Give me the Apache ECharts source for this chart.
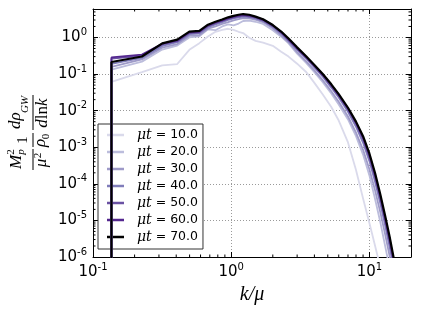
<!DOCTYPE html>
<html><head><meta charset="utf-8">
<script src="https://cdn.jsdelivr.net/npm/echarts@6/dist/echarts.min.js"></script>
<style>html,body{margin:0;padding:0;background:#fff}#c{width:421px;height:316px}</style>
</head><body><div id="c"></div>
<script>
// k / mu grid (first point duplicated: vertical drop from below the axis)
const K = [0.136, 0.136, 0.226, 0.317, 0.407, 0.498, 0.588, 0.679, 0.769, 0.860, 0.950,
  1.04, 1.13, 1.22, 1.35, 1.5, 1.7, 2.0, 2.3, 2.6, 3.0, 3.5, 4.0, 4.6, 5.3, 6.0, 7.0,
  8.0, 9.0, 10, 11, 12, 13, 14, 15, 16, 17];
const MU_T = ['10.0', '20.0', '30.0', '40.0', '50.0', '60.0', '70.0'];
const T10 = [1e-9, 0.061, 0.113, 0.173, 0.188, 0.46, 0.70, 1.06, 1.43, 1.62, 1.73, 1.62, 1.43, 1.32, 0.98, 0.81, 0.72, 0.59, 0.41, 0.30, 0.192, 0.112, 0.0575, 0.0275, 0.0126, 5.37e-3, 1.35e-3, 2.40e-4, 3.98e-5, 8.5e-6, 2.0e-6, 5.2e-7, 1.4e-7, 3e-8, 1e-8, 3e-9, 1e-9];
const T20 = [1e-9, 0.132, 0.219, 0.468, 0.603, 1.0, 1.07, 1.66, 1.58, 2.0, 2.29, 2.14, 2.40, 2.82, 2.88, 2.69, 2.34, 1.58, 1.05, 0.692, 0.363, 0.200, 0.112, 0.0603, 0.0295, 0.0148, 5.75e-3, 2.0e-3, 6.3e-4, 1.70e-4, 3.8e-5, 8.9e-6, 2.0e-6, 5e-7, 1.8e-7, 5e-8, 1.6e-8];
const T30 = [1e-9, 0.158, 0.251, 0.525, 0.661, 1.12, 1.15, 1.74, 2.0, 2.34, 2.63, 2.95, 3.16, 3.39, 3.31, 3.09, 2.63, 1.78, 1.15, 0.741, 0.398, 0.219, 0.126, 0.0676, 0.0339, 0.0174, 6.92e-3, 2.51e-3, 8.5e-4, 2.51e-4, 6.6e-5, 1.66e-5, 4.17e-6, 1.07e-6, 2.8e-7, 8e-8, 2.5e-8];
const T40 = [1e-9, 0.191, 0.275, 0.589, 0.741, 1.23, 1.29, 1.91, 2.29, 2.63, 3.02, 3.31, 3.55, 3.72, 3.63, 3.31, 2.82, 1.95, 1.29, 0.813, 0.468, 0.263, 0.151, 0.0851, 0.0427, 0.0229, 9.33e-3, 3.63e-3, 1.32e-3, 4.17e-4, 1.12e-4, 2.88e-5, 7.4e-6, 1.9e-6, 5e-7, 1.3e-7, 4e-8];
const T50 = [1e-9, 0.263, 0.316, 0.646, 0.794, 1.32, 1.38, 2.04, 2.45, 2.82, 3.24, 3.55, 3.80, 3.98, 3.80, 3.47, 2.95, 2.04, 1.35, 0.851, 0.490, 0.275, 0.162, 0.0912, 0.0468, 0.0251, 0.0107, 4.37e-3, 1.66e-3, 5.37e-4, 1.48e-4, 3.89e-5, 1.0e-5, 2.63e-6, 6.8e-7, 1.8e-7, 5e-8];
const T60 = [1e-9, 0.285, 0.339, 0.676, 0.832, 1.38, 1.45, 2.14, 2.57, 2.95, 3.39, 3.72, 3.98, 4.17, 3.98, 3.63, 3.09, 2.14, 1.41, 0.891, 0.513, 0.288, 0.170, 0.0955, 0.0501, 0.0269, 0.0115, 4.68e-3, 1.82e-3, 6.03e-4, 1.70e-4, 4.47e-5, 1.15e-5, 3.09e-6, 7.9e-7, 2.1e-7, 6.3e-8];
const T70 = [1e-9, 0.214, 0.302, 0.692, 0.871, 1.45, 1.51, 2.24, 2.69, 3.09, 3.55, 3.89, 4.17, 4.37, 4.17, 3.72, 3.16, 2.19, 1.45, 0.933, 0.537, 0.302, 0.178, 0.100, 0.0525, 0.0282, 0.0120, 5.01e-3, 2.0e-3, 6.76e-4, 1.95e-4, 5.13e-5, 1.35e-5, 3.63e-6, 9.3e-7, 2.5e-7, 7.9e-8];
const SERIES_VALUES = [T10, T20, T30, T40, T50, T60, T70];
const COLORS = ['#dadaeb', '#bcbddc', '#9e9ac8', '#807dba', '#6a51a3', '#54278f', '#000000'];
const X_MIN = 0.1, X_MAX = 20, Y_MIN = 1e-6, Y_MAX = 6;
const X_MINOR = [0.2,0.3,0.4,0.5,0.6,0.7,0.8,0.9,2,3,4,5,6,7,8,9];
const Y_MINOR = [];
[1e-6,1e-5,1e-4,1e-3,1e-2,1e-1,1].forEach(d => { for (let m = 2; m <= 9; m++) { if (d*m < Y_MAX) Y_MINOR.push(+(d*m).toPrecision(3)); } });

const chart = echarts.init(document.getElementById('c'), null, {renderer: 'canvas'});
const SANS = 'DejaVu Sans', SERIF = 'Liberation Serif', MSERIF = 'DejaVu Serif';
function powLabel(v) {
  const e = Math.log10(v), r = Math.round(e);
  if (Math.abs(e - r) > 1e-6) return '';
  return '{b|10}{s|' + (r < 0 ? '-' + (-r) : r) + '}';
}
const labelRich = {
  b: {fontSize: 15, fontFamily: SANS, color: '#000', lineHeight: 20},
  s: {fontSize: 10, fontFamily: SANS, color: '#000', lineHeight: 10, verticalAlign: 'top'}
};
const gridLine = {show: true, lineStyle: {color: '#9a9a9a', width: 1, type: [1, 2]}};
const axLine = {show: true, lineStyle: {color: '#000', width: 1}};
const majTick = {show: true, inside: true, length: 5, lineStyle: {color: '#000', width: 1}};

const series = SERIES_VALUES.map((vals, i) => ({
  name: 'μt = ' + MU_T[i], type: 'line', xAxisIndex: 0, yAxisIndex: 0,
  data: K.map((k, j) => [k, vals[j]]),
  showSymbol: false, symbol: 'none', color: COLORS[i],
  lineStyle: {width: i === 6 ? 2.2 : 1.8, color: COLORS[i]},
  animation: false, z: 3 + i, clip: true
}));
function minorX(params, api) {
  const v = api.value(0);
  const b = api.coord([v, Y_MIN]), t = api.coord([v, Y_MAX]);
  return {type: 'group', children: [
    {type: 'line', shape: {x1: b[0], y1: b[1], x2: b[0], y2: b[1] - 2.5}, style: {stroke: '#000', lineWidth: 1}},
    {type: 'line', shape: {x1: t[0], y1: t[1], x2: t[0], y2: t[1] + 2.5}, style: {stroke: '#000', lineWidth: 1}}
  ]};
}
function minorY(params, api) {
  const v = api.value(1);
  const l = api.coord([X_MIN, v]), r = api.coord([X_MAX, v]);
  return {type: 'group', children: [
    {type: 'line', shape: {x1: l[0], y1: l[1], x2: l[0] + 2.5, y2: l[1]}, style: {stroke: '#000', lineWidth: 1}},
    {type: 'line', shape: {x1: r[0], y1: r[1], x2: r[0] - 2.5, y2: r[1]}, style: {stroke: '#000', lineWidth: 1}}
  ]};
}
series.push({type: 'custom', silent: true, renderItem: minorX, data: X_MINOR.map(v => [v, Y_MIN]), z: 10, animation: false});
series.push({type: 'custom', silent: true, renderItem: minorY, data: Y_MINOR.map(v => [X_MIN, v]), z: 10, animation: false});

const it = (t, x, y, size, extra) => ({type: 'text', x: x, y: y, style: Object.assign({text: t, fontSize: size, fontFamily: SERIF, fontStyle: 'italic', fill: '#000', align: 'center', verticalAlign: 'middle'}, extra || {})});
const bar = (x1, x2) => ({type: 'line', shape: {x1: x1, y1: 0, x2: x2, y2: 0}, style: {stroke: '#000', lineWidth: 1}});

chart.setOption({
  animation: false,
  backgroundColor: '#fff',
  grid: {left: 93, right: 10, top: 9, bottom: 59, containLabel: false},
  xAxis: [
    {type: 'log', logBase: 10, min: X_MIN, max: X_MAX, position: 'bottom',
     axisLine: axLine, axisTick: majTick, splitLine: gridLine, minorTick: {show: false},
     axisLabel: {formatter: powLabel, rich: labelRich, margin: 5, showMaxLabel: false},
     name: 'k/μ', nameLocation: 'middle', nameGap: 19,
     nameTextStyle: {fontFamily: SERIF, fontStyle: 'italic', fontSize: 20, color: '#000'}},
    {type: 'log', logBase: 10, min: X_MIN, max: X_MAX, position: 'top',
     axisLine: axLine, axisTick: majTick, splitLine: {show: false}, axisLabel: {show: false}}
  ],
  yAxis: [
    {type: 'log', logBase: 10, min: Y_MIN, max: Y_MAX, position: 'left',
     axisLine: axLine, axisTick: majTick, splitLine: gridLine,
     axisLabel: {formatter: powLabel, rich: labelRich, margin: 6, showMaxLabel: false}},
    {type: 'log', logBase: 10, min: Y_MIN, max: Y_MAX, position: 'right',
     axisLine: axLine, axisTick: majTick, splitLine: {show: false}, axisLabel: {show: false}}
  ],
  legend: {
    data: MU_T.map(m => 'μt = ' + m), left: 98, top: 124, orient: 'vertical',
    backgroundColor: '#fff', borderColor: '#333', borderWidth: 1, borderRadius: 0,
    padding: [4, 5, 5, 9], itemGap: 3, itemWidth: 17, itemHeight: 2.5, icon: 'rect',
    selectedMode: false,
    formatter: n => '{m|μt}{e| = ' + n.split('= ')[1] + '}',
    textStyle: {lineHeight: 14, padding: [0, 0, 0, 8], rich: {
      m: {fontFamily: MSERIF, fontStyle: 'italic', fontSize: 14, color: '#000', lineHeight: 14},
      e: {fontFamily: SANS, fontSize: 12.5, color: '#000', lineHeight: 14}
    }}
  },
  graphic: [{
    type: 'group', x: 33, y: 133, rotation: Math.PI / 2, silent: true,
    children: [
      it('M', -29, -16, 17),
      it('2', -19, -21.5, 11, {fontStyle: 'normal'}),
      it('p', -19, -12, 11),
      bar(-37, -16),
      it('μ', -30, 9, 17),
      it('2', -22.5, 5.5, 11, {fontStyle: 'normal'}),
      it('1', -7, -10, 15, {fontStyle: 'normal'}),
      bar(-14, 0),
      it('ρ', -10, 8, 17),
      it('0', -3.5, 13, 11, {fontStyle: 'normal'}),
      it('dρ', 4, -17, 17, {align: 'left'}),
      it('GW', 20, -8, 11, {align: 'left'}),
      bar(3, 38),
      {type: 'text', x: 20, y: 9.5, style: {text: '{i|d}{r|ln}{i|k}', align: 'center', verticalAlign: 'middle', rich: {
        i: {fontFamily: SERIF, fontStyle: 'italic', fontSize: 17, fill: '#000'},
        r: {fontFamily: SERIF, fontSize: 17, fill: '#000'}
      }}}
    ]
  }],
  series: series
});
</script></body></html>
